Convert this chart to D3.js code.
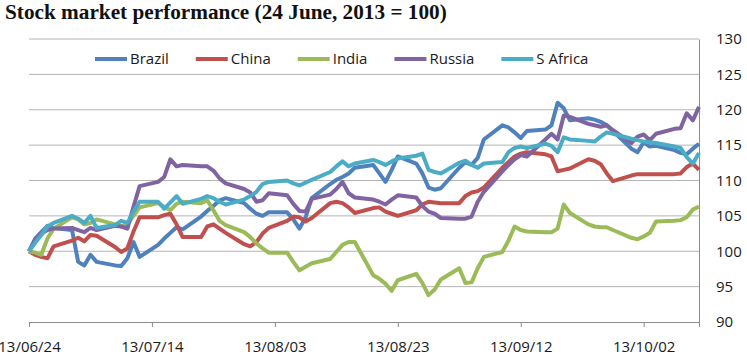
<!DOCTYPE html>
<html>
<head>
<meta charset="utf-8">
<script src="https://cdn.jsdelivr.net/npm/d3@7"></script>
<style>
  body { margin: 0; background: #fff; }
  svg { display: block; }
</style>
</head>
<body>
<svg id="chart" width="747" height="362"></svg>
<script>
// trading days, 2013
const days = [
  "06-24","06-25","06-26","06-27","06-28",
  "07-01","07-02","07-03","07-04","07-05",
  "07-08","07-09","07-10","07-11","07-12",
  "07-15","07-16","07-17","07-18","07-19",
  "07-22","07-23","07-24","07-25","07-26",
  "07-29","07-30","07-31","08-01","08-02",
  "08-05","08-06","08-07","08-08","08-09",
  "08-12","08-13","08-14","08-15","08-16",
  "08-19","08-20","08-21","08-22","08-23",
  "08-26","08-27","08-28","08-29","08-30",
  "09-02","09-03","09-04","09-05","09-06",
  "09-09","09-10","09-11","09-12","09-13",
  "09-16","09-17","09-18","09-19","09-20",
  "09-23","09-24","09-25","09-26","09-27",
  "09-30","10-01","10-02","10-03","10-04",
  "10-07","10-08","10-09","10-10","10-11"
];

const brazil = [
  100, 101.8, 102.7, 103.6, 103.3,
  103.0, 98.5, 98.0, 99.5, 98.5,
  98.0, 97.9, 99.0, 101.3, 99.2,
  100.9, 101.8, 102.6, 103.4, 103.1,
  104.9, 105.7, 106.4, 107.2, 107.5,
  106.8, 106.0, 105.3, 105.0, 105.5,
  105.5, 104.5, 103.2, 104.8, 107.5,
  109.5, 110.1, 110.5, 111.0, 111.8,
  112.2, 111.0, 109.8, 111.5, 113.4,
  112.4, 111.0, 109.0, 108.7, 108.9,
  111.8, 112.6, 112.2, 113.2, 115.8,
  117.8, 117.5, 116.8, 116.0, 117.0,
  117.2, 117.8, 121.0, 120.2, 118.5,
  118.8, 118.6, 118.3, 117.8, 117.0,
  114.5, 114.0, 115.4, 114.8, 114.9,
  114.3, 113.9, 113.7, 114.5, 115.2
];
const china = [
  100, 99.5, 99.2, 99.0, 100.7,
  101.5, 101.9, 101.4, 102.3, 102.2,
  100.6, 99.9, 100.4, 102.8, 104.8,
  104.8, 105.1, 105.3, 103.8, 102.0,
  102.0, 103.5, 103.8, 103.2, 102.6,
  101.0, 100.7, 101.3, 102.5, 103.3,
  104.3, 104.9, 104.8, 104.2, 104.7,
  106.8, 107.0, 106.8, 106.2, 105.4,
  106.1, 106.2, 105.6, 105.3, 105.0,
  105.8, 106.6, 107.0, 106.9, 106.8,
  106.8, 107.8, 108.3, 108.5, 109.0,
  111.8, 112.6, 113.4, 113.8, 114.0,
  113.7, 113.4, 111.3, 111.5, 111.7,
  113.0, 112.8, 112.3, 111.0, 109.9,
  110.7, 110.9, 110.9, 110.9, 110.9,
  110.9, 111.0, 111.9, 112.4, 111.5
];
const india = [
  100, 99.8, 99.5, 101.8, 103.2,
  104.8, 104.5, 103.8, 104.0, 104.5,
  103.8, 103.5, 103.8, 105.0, 106.2,
  106.8, 106.3, 105.8, 106.7, 107.0,
  106.8, 107.2, 105.8, 104.3, 103.7,
  102.7, 102.0, 101.1, 100.4, 99.8,
  99.8, 98.5, 97.3, 97.8, 98.3,
  98.9, 99.9, 100.9, 101.3, 101.3,
  96.6, 96.1, 95.4, 94.4, 95.9,
  96.8, 95.5, 93.8, 94.6, 96.0,
  97.6, 95.5, 95.6, 97.6, 99.2,
  99.9, 101.5, 103.5, 103.0, 102.8,
  102.7, 102.7, 103.2, 106.6, 105.4,
  103.8, 103.5, 103.4, 103.4, 103.0,
  101.9, 101.7, 102.1, 102.6, 104.2,
  104.3, 104.4, 104.8, 105.9, 106.3
];
const russia = [
  100, 101.5, 102.5, 103.0, 103.2,
  103.3, 103.0, 102.7, 103.3, 103.0,
  103.6, 103.5, 103.2, 106.3, 109.2,
  109.8, 110.5, 113.0, 112.0, 112.2,
  112.0, 112.0, 111.4, 110.3, 109.6,
  108.8, 108.3, 107.0, 107.2, 108.2,
  107.9, 106.7, 105.7, 105.6, 107.4,
  108.0, 108.8, 109.8, 108.2, 107.6,
  107.3, 107.0, 106.6, 107.3, 107.9,
  107.6, 106.4, 105.6, 105.3, 104.7,
  104.6, 104.6, 104.9, 107.0, 108.4,
  111.3, 112.2, 113.0, 113.6, 113.4,
  115.8, 116.6, 115.8, 119.2, 119.0,
  118.0, 117.8, 117.6, 117.8, 117.1,
  115.3, 116.2, 116.5, 115.7, 116.6,
  117.3, 117.4, 119.5, 118.5, 120.4
];
const safrica = [
  100, 101.2, 102.3, 103.5, 104.0,
  105.0, 104.6, 104.0, 105.0, 103.3,
  103.7, 104.3, 104.0, 105.6, 107.0,
  107.0, 106.0, 106.9, 107.8, 106.7,
  107.4, 107.8, 107.5, 107.0, 106.6,
  107.3, 107.8, 108.4, 109.5, 109.8,
  110.0, 109.6, 109.3, 109.7, 110.1,
  111.2, 112.0, 112.7, 112.0, 112.4,
  112.9, 112.6, 112.2, 112.7, 113.1,
  113.5, 113.8, 111.5, 111.2, 111.0,
  112.5, 112.8, 112.2, 111.8, 112.4,
  112.6, 114.0, 114.6, 114.8, 114.6,
  115.2, 114.9, 114.0, 116.1, 115.8,
  115.6, 115.5, 116.2, 116.8, 116.6,
  115.9, 115.7, 115.5, 115.4, 115.3,
  114.8, 114.6, 113.3, 112.4, 113.9
];

const names = ["Brazil", "China", "India", "Russia", "S Africa"];
const colors = ["#4F81BD", "#C0504D", "#9BBB59", "#8064A2", "#4BACC6"];
const tickDays = ["06-24", "07-14", "08-03", "08-23", "09-12", "10-02"];
const yTicks = [90, 95, 100, 105, 110, 115, 120, 125, 130];

const parse = d3.timeParse("%Y-%m-%d");
const toDate = s => parse("2013-" + s);
const dates = days.map(toDate);
const series = [brazil, china, india, russia, safrica].map((vals, i) => ({
  name: names[i],
  color: colors[i],
  points: vals.map((v, j) => ({ date: dates[j], value: v }))
}));

const svg = d3.select("#chart");
const font = "'Open Sans', sans-serif";

const x = d3.scaleTime()
  .domain([toDate("06-24"), toDate("10-11")])
  .range([29, 699]);
const y = d3.scaleLinear()
  .domain([90, 130])
  .range([322, 39]);

// gridlines
svg.append("g")
  .selectAll("line")
  .data(yTicks.filter(v => v > 90))
  .join("line")
    .attr("x1", 29).attr("x2", 699)
    .attr("y1", d => y(d)).attr("y2", d => y(d))
    .attr("stroke", "#b4b4b4")
    .attr("stroke-width", 1);

// x axis
const xAxis = svg.append("g")
  .attr("transform", `translate(0,${y(90)})`)
  .call(d3.axisBottom(x)
    .tickValues(tickDays.map(toDate))
    .tickFormat(d3.timeFormat("%y/%m/%d"))
    .tickSize(5)
    .tickPadding(14));
xAxis.select(".domain").attr("stroke", "#8c8c8c");
xAxis.selectAll(".tick line").attr("stroke", "#8c8c8c");
xAxis.selectAll("text")
  .attr("font-family", font)
  .attr("font-size", 15)
  .attr("fill", "#1a1a1a");

// right y axis
const yAxis = svg.append("g")
  .attr("transform", `translate(699,0)`)
  .call(d3.axisRight(y)
    .tickValues(yTicks)
    .tickSize(0)
    .tickPadding(17));
yAxis.select(".domain").attr("stroke", "#8c8c8c");
yAxis.selectAll("text")
  .attr("font-family", font)
  .attr("font-size", 15)
  .attr("fill", "#1a1a1a");

// lines
const line = d3.line()
  .x(d => x(d.date))
  .y(d => y(d.value));

svg.append("g")
  .selectAll("path")
  .data(series)
  .join("path")
    .attr("d", d => line(d.points))
    .attr("fill", "none")
    .attr("stroke", d => d.color)
    .attr("stroke-width", 4)
    .attr("stroke-linejoin", "round");

// legend
const legend = svg.append("g");
let lx = 95;
series.forEach(s => {
  legend.append("line")
    .attr("x1", lx).attr("x2", lx + 32)
    .attr("y1", 59).attr("y2", 59)
    .attr("stroke", s.color)
    .attr("stroke-width", 4);
  const t = legend.append("text")
    .attr("x", lx + 35)
    .attr("y", 59)
    .attr("dy", "0.35em")
    .attr("font-family", font)
    .attr("font-size", 15)
    .attr("fill", "#1a1a1a")
    .text(s.name);
  lx += 35 + t.node().getComputedTextLength() + 27;
});

// title
const title = svg.append("text")
  .attr("x", 5)
  .attr("y", 19)
  .attr("font-family", "'Liberation Serif', serif")
  .attr("font-weight", "bold")
  .attr("font-size", 19)
  .attr("fill", "#111")
  .text("Stock market performance (24 June, 2013 = 100)");
const tw = title.node().getComputedTextLength();
title.attr("font-size", 19 * 442 / tw);
</script>
</body>
</html>
